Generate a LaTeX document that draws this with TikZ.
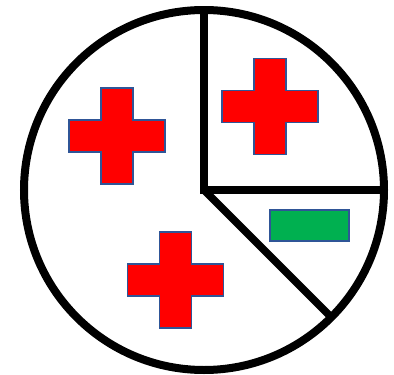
\documentclass[tikz,border=0pt]{standalone}
\usetikzlibrary{calc}
\definecolor{crossred}{HTML}{FF0000}
\definecolor{minusgreen}{HTML}{00B050}
\definecolor{edgeblue}{HTML}{2F5597}
\tikzset{
  shapeedge/.style={draw=edgeblue, line width=1.4pt},
  redcross/.pic={
    \fill[crossred, shapeedge] (-16,-48) -- (16,-48) -- (16,-16) -- (48,-16) -- (48,16) -- (16,16)
      -- (16,48) -- (-16,48) -- (-16,16) -- (-48,16) -- (-48,-16) -- (-16,-16) -- cycle;
  },
  pieline/.style={draw=black, line width=8pt},
}
\begin{document}
\begin{tikzpicture}[x=1pt,y=-1pt]
\useasboundingbox (0,0) rectangle (394,375);
\coordinate (c) at (204,190);
\coordinate (rim) at ($(c)+(45:180)$);
\draw[pieline] (c) circle (180);
\draw[pieline, line join=miter] (204,10) -- (c) -- (384,190);
\draw[pieline, line width=7.5pt] (c) -- (rim);
\pic at (117,136) {redcross};
\pic at (270,106.5) {redcross};
\pic at (175.5,280) {redcross};
\node[fill=minusgreen, shapeedge, minimum width=79pt, minimum height=31pt, inner sep=0pt] (minus) at (309.5,225.5) {};
\end{tikzpicture}
\end{document}
